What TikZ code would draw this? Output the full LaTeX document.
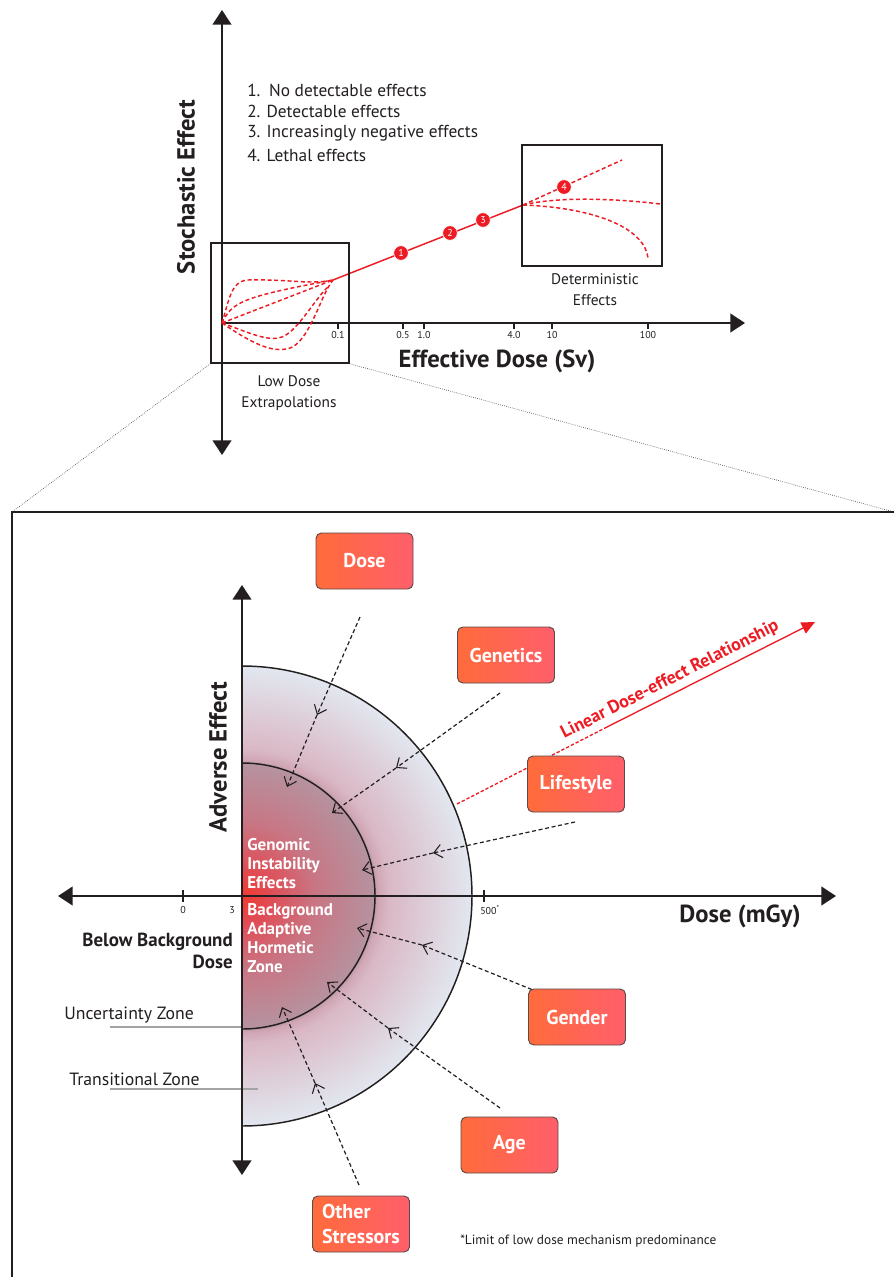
\documentclass[tikz,border=0pt]{standalone}
\usepackage{fontspec}
\setmainfont{PT Sans}
\usetikzlibrary{arrows.meta}
\definecolor{rd}{HTML}{ED1C24}
\definecolor{ink}{HTML}{231F20}
\definecolor{boxL}{HTML}{FF6B3B}
\definecolor{boxR}{HTML}{FF5F6B}
\definecolor{boxE}{HTML}{5A4A48}
\definecolor{zoneline}{HTML}{A3A3A3}
\definecolor{zc0}{HTML}{F2392E}
\definecolor{zc1}{HTML}{E04C55}
\definecolor{zc2}{HTML}{C87684}
\definecolor{zc3}{HTML}{B6929F}
\definecolor{zc4}{HTML}{D0A6B5}
\definecolor{zc5}{HTML}{DAB8C5}
\definecolor{zc6}{HTML}{DDCDD8}
\definecolor{zc7}{HTML}{E2E7EF}
\pgfdeclareradialshading{zones}{\pgfpoint{0bp}{0bp}}{%
color(0bp)=(zc0); color(3bp)=(zc1); color(8bp)=(zc2); color(14.3bp)=(zc3);
color(14.8bp)=(zc4); color(16bp)=(zc5); color(20bp)=(zc6); color(25bp)=(zc7); color(50bp)=(zc7)}
\begin{document}
\begin{tikzpicture}[x=0.75pt,y=-0.75pt,
 AxTip/.tip={Triangle[length=11pt,width=14pt]},
 RdTip/.tip={Triangle[length=10pt,width=9pt]},
 BarbTip/.tip={Straight Barb[length=6pt,width=10pt,line width=0.8pt]},
 axis/.style={draw=ink,line width=1.6pt},
 boxframe/.style={draw=ink,line width=1.1pt,fill=none,inner sep=0pt},
 rdash/.style={draw=rd,line width=1.1pt,dash pattern=on 3pt off 2pt},
 numc/.style={circle,fill=rd,draw=white,line width=0.5pt,inner sep=0pt,minimum size=11pt,text=white,font=\fontsize{7.5}{8}\selectfont},
 axtick/.style={draw=ink,line width=0.9pt},
 ticklab/.style={font=\fontsize{7.5}{9}\selectfont,text=ink,inner sep=0pt},
 axlab/.style={font=\fontsize{18.5}{22}\selectfont\bfseries,text=ink,inner sep=0pt},
 lbl/.style={font=\fontsize{11.5}{15.75}\selectfont,text=ink,inner sep=0pt},
 listlbl/.style={font=\fontsize{13}{15}\selectfont,text=ink,inner sep=0pt,anchor=west},
 zonelbl/.style={font=\fontsize{13.3}{15}\selectfont,text=ink,inner sep=0pt,anchor=west},
 factor/.style={draw=boxE,line width=0.7pt,rounded corners=4pt,left color=boxL,right color=boxR,minimum width=72.75pt,minimum height=42pt,text=white,font=\fontsize{15}{19}\selectfont\bfseries,inner sep=2pt},
 link/.style={draw=ink,line width=0.9pt,dash pattern=on 3pt off 2pt,-BarbTip},
 wlbl/.style={text=white,font=\fontsize{12.75}{14.25}\selectfont\bfseries,inner sep=0pt,align=left,anchor=west},
 proj/.style={draw=ink!80,line width=0.5pt,densely dotted},
 zline/.style={draw=zoneline,line width=0.8pt}
]
\useasboundingbox (0,0) rectangle (894,1277);
\fill[white] (0,0) rectangle (894,1277);

% ================= TOP GRAPH =================
\coordinate (O) at (222,323);
\coordinate (tvb) at (222,455);
\coordinate (tvt) at (222,10);
\coordinate (txr) at (745,323);
\draw[axis,AxTip-AxTip] (tvb) -- (tvt);
\draw[axis,-AxTip] (O) -- (txr);
\foreach \x/\l in {338/0.1,403/0.5,424/1.0,514/4.0,552/10,648/100}{
  \draw[axtick] (\x,323) -- (\x,329);
  \node[ticklab] (tk\x) at (\x,335) {\l};
}
\node[axlab,rotate=90] (ylab) at (186,187) {Stochastic Effect};
\node[axlab] (xlab) at (497,361) {Effective Dose (Sv)};

\node[listlbl] (li1) at (247,90) {1.\enspace No detectable effects};
\node[listlbl] (li2) at (247,111.5) {2. Detectable effects};
\node[listlbl] (li3) at (247,133) {3. Increasingly negative effects};
\node[listlbl] (li4) at (247,155) {4. Lethal effects};

% low dose curves
\coordinate (le) at (333,280);
\coordinate (le2) at (329,286);
\draw[rdash] (O) .. controls (229,300) and (231,281) .. (248,280) .. controls (290,279) and (310,285) .. (le);
\draw[rdash] (O) .. controls (232,302) and (242,297) .. (le);
\draw[rdash] (O) -- (le);
\draw[rdash] (O) .. controls (250,333) and (268,342) .. (282,337) .. controls (298,331) and (316,297) .. (le2);
\draw[rdash] (O) .. controls (250,342) and (272,354) .. (290,348) .. controls (308,342) and (320,300) .. (le2) -- (le);

% linear line
\coordinate (dd) at (523,205);
\coordinate (dtop) at (622,160);
\draw[draw=rd,line width=1.1pt] (le) -- (dd);
\draw[rdash] (dd) -- (dtop);
\draw[rdash] (dd) .. controls (560,196) and (620,199) .. (660,204);
\draw[rdash] (dd) .. controls (600,208) and (645,230) .. (648,258);

\node[numc] (n1) at (401,253) {1};
\node[numc] (n2) at (450,233) {2};
\node[numc] (n3) at (483,220) {3};
\node[numc] (n4) at (564,187) {4};

\node[boxframe,minimum width=103.5pt,minimum height=90pt] (lowbox) at (280,303) {};
\node[boxframe,minimum width=105pt,minimum height=90.75pt] (detbox) at (592,205.5) {};
\node[lbl,align=center] (lowlab) at (289,393.5) {Low Dose\\Extrapolations};
\node[lbl,align=center] (detlab) at (595,289.5) {Deterministic\\Effects};

% ================= BOTTOM PANEL =================
\coordinate (bigTL) at (12,512);
\coordinate (bigTR) at (894,512);
\coordinate (bigBL) at (12,1277);
\draw[proj] (lowbox.south west) -- (bigTL);
\draw[proj] (lowbox.south east) -- (bigTR);
\draw[draw=ink,line width=1.5pt] (bigBL) -- (bigTL) -- (bigTR);

\begin{scope}
\clip (242,666) arc[start angle=-90,end angle=90,radius=230] -- cycle;
\shade[shading=zones] (242,896) circle[radius=230];
\end{scope}
\draw[draw=ink,line width=1.1pt] (242,666) arc[start angle=-90,end angle=90,radius=230];
\draw[draw=ink,line width=1.1pt] (242,763) arc[start angle=-90,end angle=90,radius=133];

\draw[zline] (110,1027) -- (242,1027);
\draw[zline] (110,1089) -- (258,1089);

\coordinate (bvb) at (242,1175);
\coordinate (bvt) at (242,585);
\coordinate (bhl) at (58,896);
\coordinate (bhr) at (836,896);
\draw[axis,AxTip-AxTip] (bvb) -- (bvt);
\draw[axis,AxTip-AxTip] (bhl) -- (bhr);
\draw[axtick] (183,890) -- (183,902);
\draw[axtick] (484,890) -- (484,902);
\node[ticklab] (t0) at (183,910) {0};
\node[ticklab] (t3) at (232,910) {3};
\node[ticklab] (t500) at (490,910) {500\textsuperscript{*}};

\node[axlab,rotate=90] (ylab2) at (218,757) {Adverse Effect};
\node[axlab] (xlab2) at (740,916) {Dose (mGy)};

\node[font=\fontsize{14.2}{16.5}\selectfont\bfseries,text=ink,inner sep=0pt,align=right,anchor=east] (below) at (233,951) {Below Background\\Dose};
\node[wlbl] (gie) at (247,864) {Genomic\\Instability\\Effects};
\node[wlbl] (bahz) at (247,938.5) {Background\\Adaptive\\Hormetic\\Zone};
\node[zonelbl] (unc) at (64,1015) {Uncertainty Zone};
\node[zonelbl] (trz) at (69,1079) {Transitional Zone};
\node[font=\fontsize{10}{12}\selectfont,text=ink,inner sep=0pt,anchor=west] (fn) at (460,1241) {*Limit of low dose mechanism predominance};

% dashed influence links
\coordinate (dS) at (360,617); \coordinate (dM) at (317,715); \coordinate (dE) at (287,787);
\coordinate (gS) at (500,693); \coordinate (gM) at (396,768); \coordinate (gE) at (332,813);
\coordinate (lS) at (575,822); \coordinate (lM) at (433,853); \coordinate (lE) at (362,870);
\coordinate (xS) at (575,1007); \coordinate (xM) at (422,945); \coordinate (xE) at (357,928);
\coordinate (aS) at (500,1108); \coordinate (aM) at (388,1028); \coordinate (aE) at (327,982);
\coordinate (oS) at (359,1185); \coordinate (oM) at (315,1083); \coordinate (oE) at (282,1007);
\foreach \p in {d,g,l,x,a,o}{
  \draw[link] (\p S) -- (\p M);
  \draw[link] (\p M) -- (\p E);
}

% linear dose-effect relationship
\coordinate (la) at (457,804);
\coordinate (lb) at (607,727);
\coordinate (lc) at (815,622);
\draw[draw=rd,line width=1pt,dash pattern=on 2.5pt off 1.5pt] (la) -- (lb);
\draw[draw=rd,line width=1pt,-RdTip] (lb) -- (lc);
\node[text=rd,font=\fontsize{13.5}{15}\selectfont\bfseries,inner sep=0pt,rotate=27] (lintext) at (670,680) {Linear Dose-effect Relationship};

% factor boxes
\node[factor] (bDose) at (364.5,561) {Dose};
\node[factor] (bGen) at (506,655) {Genetics};
\node[factor] (bLife) at (576,784) {Lifestyle};
\node[factor] (bGender) at (577,1017) {Gender};
\node[factor] (bAge) at (509.5,1145) {Age};
\node[factor,align=left] (bOther) at (361,1224) {Other\\Stressors};
\end{tikzpicture}
\end{document}
